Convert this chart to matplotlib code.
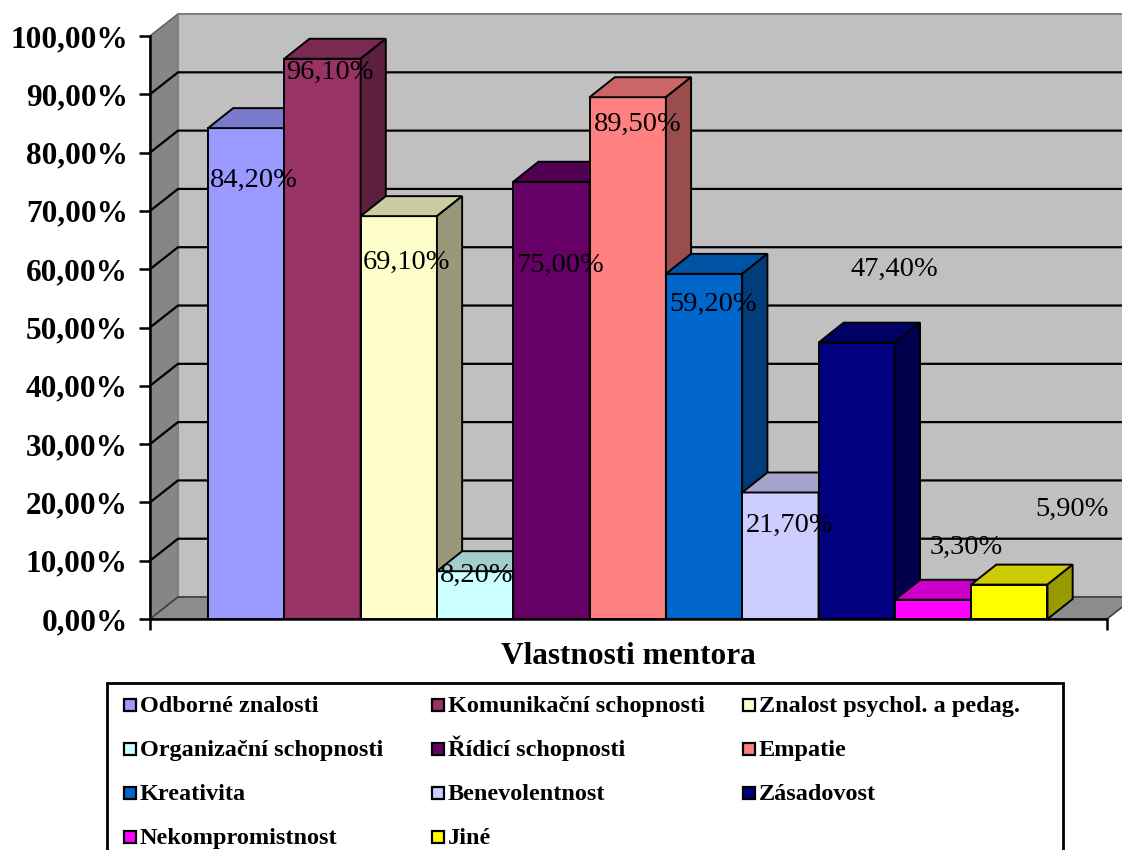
import matplotlib.pyplot as plt
import numpy as np
from matplotlib.colors import to_rgb
from matplotlib.patches import Polygon, Rectangle

categories = [
    "Odborné znalosti",
    "Komunikační schopnosti",
    "Znalost psychol. a pedag.",
    "Organizační schopnosti",
    "Řídicí schopnosti",
    "Empatie",
    "Kreativita",
    "Benevolentnost",
    "Zásadovost",
    "Nekompromistnost",
    "Jiné",
]
values = [84.2, 96.1, 69.1, 8.2, 75.0, 89.5, 59.2, 21.7, 47.4, 3.3, 5.9]
colors = [
    "#9999FF", "#993366", "#FFFFCC", "#CCFFFF", "#660066", "#FF8080",
    "#0066CC", "#CCCCFF", "#000080", "#FF00FF", "#FFFF00",
]
y_ticks = list(range(0, 101, 10))

# data label placement: shift from the bar's left edge (bar widths), height (%)
label_dx = [0.03, 0.02, 0.03, 0.04, 0.04, 0.05, 0.05, 0.05, 0.42, 0.45, 0.84]
label_y = [75.2, 93.8, 61.1, 7.4, 60.6, 84.9, 53.9, 16.0, 59.9, 12.2, 18.8]

SERIF = "Liberation Serif"
W, H = 1122, 850

fig = plt.figure(figsize=(W / 100, H / 100), dpi=100)
ax = fig.add_axes([150 / W, 1 - 619 / H, 957 / W, 583 / H])
XMIN, XMAX = -0.76, 11.78
ax.set_xlim(XMIN, XMAX)
ax.set_ylim(0, 100)
ax.patch.set_visible(False)

# depth of the walls and of the bars, in data units
DX, DY = 0.367, 3.77
BDX, BDY = 0.33, 3.43


def poly(pts, fc, ec, lw, z):
    p = Polygon(pts, closed=True, facecolor=fc, edgecolor=ec, linewidth=lw,
                zorder=z, clip_on=False, joinstyle="miter")
    ax.add_patch(p)


# walls and floor
poly([(XMIN, 0), (XMIN, 100), (XMIN + DX, 100 + DY), (XMIN + DX, DY)],
     "#868686", "#606060", 1.2, 0.1)
poly([(XMIN + DX, DY), (XMAX + DX, DY), (XMAX + DX, 100 + DY), (XMIN + DX, 100 + DY)],
     "#c0c0c0", "#808080", 1.5, 0.1)
poly([(XMIN, 0), (XMAX, 0), (XMAX + DX, DY), (XMIN + DX, DY)],
     "#8c8c8c", "#404040", 1.2, 0.2)

# gridlines on the side and back walls
for t in y_ticks[1:-1]:
    ax.plot([XMIN, XMIN + DX, XMAX + DX], [t, t + DY, t + DY],
            color="black", linewidth=1.6, zorder=0.5, clip_on=False)

# 3D columns: front faces via bar(), then top and right side faces
x = np.arange(len(values))
bars = ax.bar(x, values, width=1.0, align="edge", color=colors,
              edgecolor="black", linewidth=1.4)
for i, (b, v, c) in enumerate(zip(bars, values, colors)):
    z = 3 + i
    b.set_zorder(z)
    rgb = np.array(to_rgb(c))
    poly([(i, v), (i + 1, v), (i + 1 + BDX, v + BDY), (i + BDX, v + BDY)],
         rgb * 0.8, "black", 1.4, z)
    poly([(i + 1, 0), (i + 1 + BDX, BDY), (i + 1 + BDX, v + BDY), (i + 1, v)],
         rgb * 0.6, "black", 1.4, z)

# data labels
for i, v in enumerate(values):
    ax.text(i + label_dx[i], label_y[i], f"{v:.2f}%".replace(".", ","),
            ha="left", va="center", fontsize=20.5, family=SERIF,
            color="black", zorder=30, clip_on=False)

# axes
for side in ["top", "right"]:
    ax.spines[side].set_visible(False)
for side in ["left", "bottom"]:
    ax.spines[side].set_linewidth(1.8)
    ax.spines[side].set_zorder(2)
ax.set_yticks(y_ticks)
ax.set_yticklabels([f"{t:.2f}%".replace(".", ",") for t in y_ticks],
                   fontsize=22.5, fontweight="bold", family=SERIF)
ax.set_xticks([XMIN, XMAX])
ax.set_xticklabels([])
ax.tick_params(axis="both", direction="out", length=8, width=1.8)
ax.tick_params(axis="y", pad=8)

fig.text(628 / W, 1 - 657 / H, "Vlastnosti mentora", ha="center", va="center",
         fontsize=22.5, fontweight="bold", family=SERIF)

# legend box, entries laid out row by row in three columns
fig.patches.append(Rectangle((107 / W, 1 - 862 / H), (1063 - 107) / W, (862 - 683) / H,
                             transform=fig.transFigure, facecolor="white",
                             edgecolor="black", linewidth=2, zorder=1))
col_x = [124, 432, 743]
row_y = [705, 749, 793, 837]
box = 12
for k, (name, c) in enumerate(zip(categories, colors)):
    cx, cy = col_x[k % 3], row_y[k // 3]
    fig.patches.append(Rectangle((cx / W, 1 - (cy + box / 2) / H), box / W, box / H,
                                 transform=fig.transFigure, facecolor=c,
                                 edgecolor="black", linewidth=1.6, zorder=2))
    fig.text((cx + box + 4) / W, 1 - (cy + 7) / H, name, ha="left", va="baseline",
             fontsize=17.5, fontweight="bold", family=SERIF, zorder=3)

fig.savefig("out.png", dpi=100)
